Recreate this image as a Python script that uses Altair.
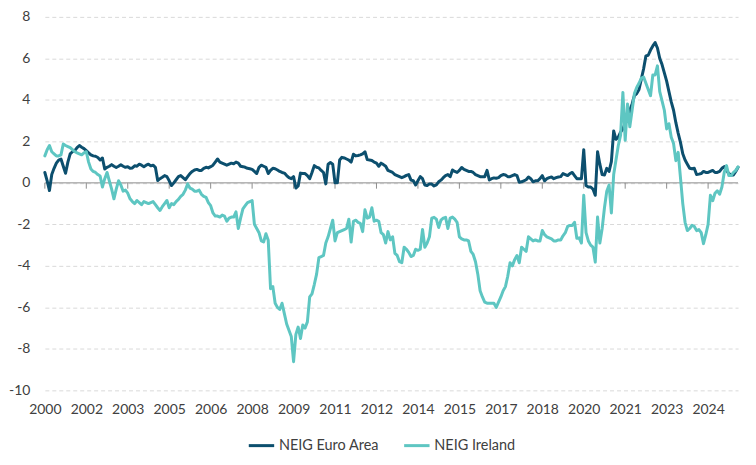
import altair as alt
import pandas as pd

series_names = ["NEIG Euro Area", "NEIG Ireland"]
series_colors = ["#0C4F6E", "#5EC6C2"]

# monthly observations, first month = Dec 2000
tick_months = list(range(0, 289, 18))
tick_labels = ["2000", "2002", "2003", "2005", "2006", "2008", "2009", "2011", "2012",
               "2014", "2015", "2017", "2018", "2020", "2021", "2023", "2024"]
y_ticks = [-10, -8, -6, -4, -2, 0, 2, 4, 6, 8]

euro_area = [
    0.5, 0.1, -0.37, 0.4, 0.7, 0.95, 1.1, 1.15, 0.8, 0.46,
    1.0, 1.4, 1.5, 1.55, 1.7, 1.8, 1.72, 1.65, 1.55, 1.45,
    1.35, 1.3, 1.28, 1.22, 1.1, 1.2, 0.67, 0.75, 0.8, 0.88,
    0.8, 0.74, 0.8, 0.87, 0.8, 0.75, 0.78, 0.7, 0.72, 0.82,
    0.8, 0.9, 0.85, 0.78, 0.85, 0.9, 0.82, 0.85, 0.75, 0.11,
    0.2, 0.27, 0.35, 0.3, 0.1, -0.13, 0.0, 0.15, 0.3, 0.35,
    0.25, 0.15, 0.3, 0.45, 0.55, 0.62, 0.65, 0.6, 0.6, 0.7,
    0.75, 0.72, 0.78, 0.85, 1.0, 1.15, 1.0, 0.95, 0.9, 0.85,
    0.9, 0.95, 0.92, 1.0, 0.95, 0.8, 0.78, 0.75, 0.7, 0.68,
    0.65, 0.55, 0.45, 0.75, 0.85, 0.8, 0.75, 0.45, 0.6, 0.7,
    0.68, 0.62, 0.55, 0.5, 0.47, 0.35, 0.25, 0.2, 0.3, -0.25,
    -0.15, 0.47, 0.45, 0.45, 0.35, 0.2, 0.5, 0.83, 0.75, 0.72,
    0.6, 0.5, -0.05, 0.9, 0.98, 0.9, 0.0, 0.0, 1.1, 1.23,
    1.2, 1.15, 1.1, 1.0, 1.38, 1.3, 1.32, 1.35, 1.4, 1.5,
    1.12, 1.1, 1.08, 1.0, 0.95, 0.8, 0.95, 0.88, 0.8, 0.6,
    0.55, 0.5, 0.4, 0.35, 0.3, 0.25, 0.3, 0.36, 0.4, 0.13,
    0.1, -0.1, 0.1, 0.3, 0.2, -0.1, -0.13, -0.05, -0.06, -0.15,
    -0.1, 0.05, 0.13, 0.25, 0.35, 0.4, 0.3, 0.62, 0.55, 0.5,
    0.6, 0.74, 0.65, 0.6, 0.55, 0.55, 0.5, 0.4, 0.35, 0.3,
    0.3, 0.3, 0.6, 0.14, 0.2, 0.24, 0.22, 0.25, 0.35, 0.4,
    0.38, 0.3, 0.3, 0.35, 0.4, 0.35, 0.03, 0.05, 0.1, 0.15,
    0.28, 0.2, 0.05, 0.1, 0.1, 0.2, 0.35, 0.1, 0.2, 0.25,
    0.28, 0.2, 0.25, 0.28, 0.3, 0.45, 0.4, 0.35, 0.45, 0.5,
    0.35, 0.2, 0.2, 0.2, 1.6, -0.13, -0.2, -0.2, -0.3, -0.6,
    1.5, 0.9, 0.4, 0.38, 0.7, 0.55, 1.02, 2.5, 2.1, 2.2,
    2.45, 2.6, 2.9, 3.0, 3.5, 3.8, 4.2, 4.3, 4.5, 5.0,
    5.5, 6.12, 6.15, 6.4, 6.6, 6.76, 6.5, 6.0, 5.7, 5.3,
    4.9, 4.4, 3.9, 3.5, 2.9, 2.4, 1.95, 1.4, 1.1, 0.9,
    0.7, 0.68, 0.7, 0.4, 0.42, 0.45, 0.55, 0.5, 0.5, 0.55,
    0.6, 0.5, 0.5, 0.55, 0.7, 0.78, 0.6, 0.45, 0.38, 0.38,
    0.55, 0.75,
]

ireland = [
    1.3, 1.6, 1.8, 1.5, 1.4, 1.3, 1.3, 1.35, 1.87, 1.8,
    1.75, 1.7, 1.6, 1.5, 1.45, 1.4, 1.35, 1.45, 1.5, 1.0,
    0.67, 0.55, 0.5, 0.4, 0.33, -0.2, 0.2, 0.5, 0.1, -0.3,
    -0.77, -0.3, 0.1, -0.1, -0.4, -0.35, -0.5, -0.77, -0.9, -1.0,
    -0.85, -0.95, -1.05, -0.9, -0.95, -1.0, -0.95, -0.9, -1.05, -1.2,
    -1.33, -1.15, -1.0, -0.85, -1.2, -1.0, -1.05, -0.9, -0.8, -0.65,
    -0.55, -0.35, -0.05, -0.25, -0.3, -0.4, -0.4, -0.35, -0.55, -0.65,
    -0.7, -0.95, -1.1, -1.45, -1.6, -1.6, -1.65, -1.55, -1.6, -1.85,
    -1.7, -1.65, -1.65, -1.4, -2.2, -1.7, -1.25, -1.1, -0.95, -0.9,
    -0.85, -2.0, -2.2, -2.4, -2.8, -2.85, -2.45, -2.77, -5.1, -5.0,
    -5.8, -6.0, -6.1, -5.8, -6.3, -6.8, -7.1, -7.4, -8.62, -7.3,
    -6.95, -7.5, -6.85, -7.0, -6.7, -5.5, -5.35, -4.9, -4.4, -3.6,
    -3.55, -3.5, -2.9, -2.6, -2.2, -1.8, -2.8, -2.4, -2.35, -2.3,
    -2.25, -2.2, -1.75, -2.85, -1.85, -1.8, -1.9, -1.95, -2.35, -1.3,
    -1.7, -1.65, -1.2, -1.85, -1.8, -1.85, -2.4, -2.5, -2.9, -2.35,
    -2.75, -2.6, -3.4, -3.5, -3.8, -3.85, -3.1, -3.2, -3.35, -3.55,
    -3.5, -3.2, -3.25, -3.2, -2.25, -3.1, -2.9, -2.6, -1.7, -1.66,
    -1.75, -2.15, -1.8, -1.7, -1.66, -2.2, -1.7, -1.65, -1.75, -1.9,
    -2.6, -2.7, -2.75, -2.75, -2.8, -3.3, -3.45, -3.8, -4.4, -5.2,
    -5.5, -5.75, -5.8, -5.8, -5.8, -5.8, -6.0, -5.75, -5.5, -5.2,
    -5.0, -4.5, -3.85, -4.0, -3.7, -3.5, -3.85, -3.1, -3.2, -3.3,
    -2.6, -2.7, -2.8, -2.75, -2.8, -2.8, -2.3, -2.5, -2.6, -2.65,
    -2.7, -2.8, -2.8, -2.75, -2.75, -2.55, -2.4, -2.1, -2.05, -2.05,
    -1.9, -2.67, -2.65, -2.9, -0.6, -2.4, -2.8, -3.0, -3.1, -3.82,
    -1.65, -2.9, -2.2, -1.2, -0.4, -0.1, -1.45, 0.4, 1.1, 1.8,
    2.3, 4.36, 2.05, 3.8, 2.7, 3.5, 4.3, 4.6, 4.8, 5.05,
    5.1, 4.8, 4.5, 4.2, 5.2, 5.2, 5.64, 4.4, 3.95, 3.5,
    2.6, 2.85, 2.2, 1.9, 1.07, 1.47, 0.25, -1.0, -1.9, -2.3,
    -2.2, -2.05, -2.1, -2.3, -2.25, -2.4, -2.93, -2.5, -2.0, -0.6,
    -0.86, -0.5, -0.38, -0.55, -0.2, 0.5, 0.83, 0.35, 0.35, 0.5,
    0.6, 0.77,
]

rows = []
for name, vals in zip(series_names, [euro_area, ireland]):
    for i, v in enumerate(vals):
        rows.append({"month": i, "value": v, "series": name})
df = pd.DataFrame(rows)

n_months = len(euro_area)
FONT = "Lato"
TXT = "#404040"
AXIS_GREY = "#8C8C8C"

x_scale = alt.Scale(domain=[0, n_months - 1], nice=False, zero=False)
y_scale = alt.Scale(domain=[-10, 8], nice=False, zero=False)

label_js = "[" + ",".join("'" + s + "'" for s in tick_labels) + "][round(datum.value / 18)]"

x_axis = alt.Axis(values=tick_months, labelExpr=label_js, title=None, grid=False,
                  ticks=False, domain=False, labelPadding=12, labelFont=FONT,
                  labelFontSize=14, labelColor=TXT, labelFlush=False,
                  labelOverlap=False)
y_axis = alt.Axis(values=y_ticks, labelExpr="'' + datum.value", title=None, grid=True,
                  gridColor="#D9D9D9", gridDash=[4, 3], gridWidth=1, ticks=False,
                  domain=False, labelPadding=15, labelFont=FONT, labelFontSize=14,
                  labelColor=TXT)

zero_line = alt.Chart(pd.DataFrame({"v": [0]})).mark_rule(
    color=AXIS_GREY, strokeWidth=1
).encode(y=alt.Y("v:Q", scale=y_scale, axis=y_axis))

tick_df = pd.DataFrame({"month": tick_months, "top": [0] * len(tick_months),
                        "bottom": [-0.28] * len(tick_months)})
tick_marks = alt.Chart(tick_df).mark_rule(color=AXIS_GREY, strokeWidth=1).encode(
    x=alt.X("month:Q", scale=x_scale, axis=x_axis),
    y=alt.Y("top:Q", scale=y_scale, axis=y_axis),
    y2="bottom:Q",
)

lines = alt.Chart(df).mark_line(strokeWidth=3, strokeJoin="round", strokeCap="round").encode(
    x=alt.X("month:Q", scale=x_scale, axis=x_axis),
    y=alt.Y("value:Q", scale=y_scale, axis=y_axis),
    color=alt.Color(
        "series:N",
        scale=alt.Scale(domain=series_names, range=series_colors),
        legend=alt.Legend(orient="none", legendX=203, legendY=416, direction="horizontal",
                          title=None, symbolType="stroke", symbolStrokeWidth=3,
                          symbolSize=650, labelFont=FONT, labelFontSize=14.5,
                          labelColor=TXT, columnPadding=18, labelOffset=3),
    ),
)

chart = alt.layer(zero_line, tick_marks, lines).properties(
    width=696,
    height=375,
    autosize="none",
    padding={"left": 37, "top": 8, "right": 10, "bottom": 62},
    background="white",
).configure_view(stroke=None)

chart.save("out.html", embed_options={"renderer": "svg", "actions": False})
